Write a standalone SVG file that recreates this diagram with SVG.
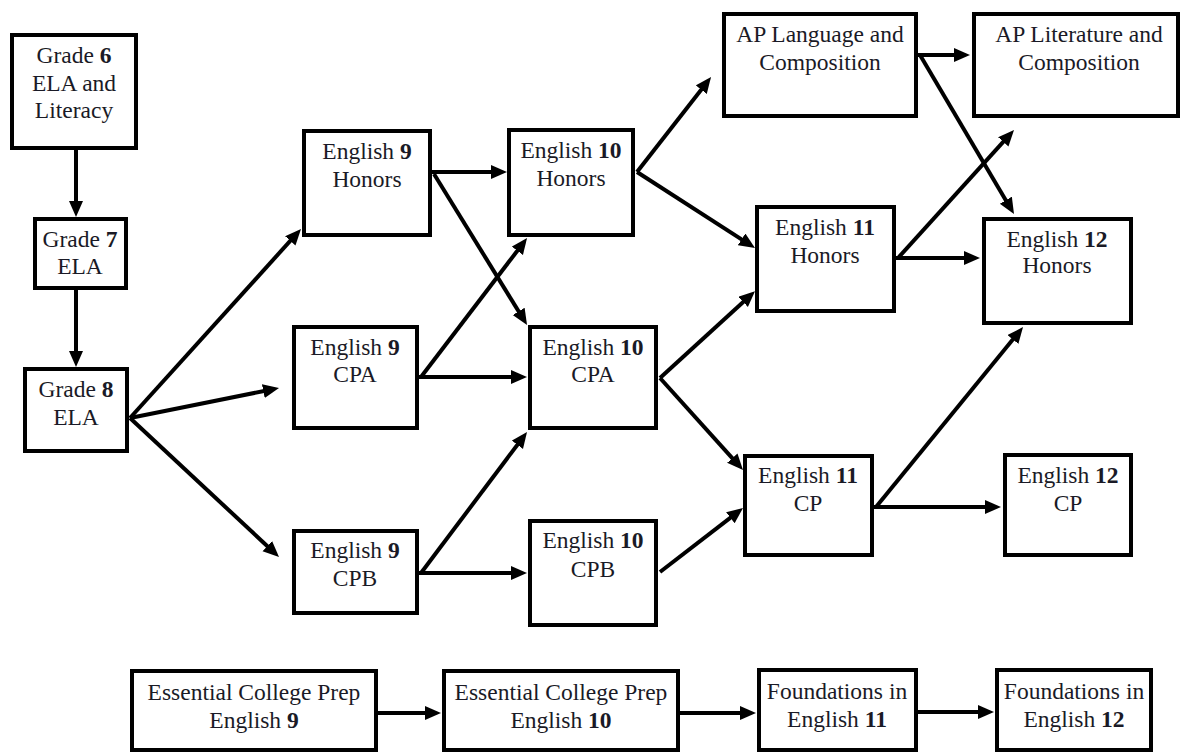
<svg xmlns="http://www.w3.org/2000/svg" width="1183" height="754" viewBox="0 0 1183 754" font-family="Liberation Serif, Tinos, Times New Roman, DejaVu Serif, serif">
<defs>
<style>
.box{fill:#fff;stroke:#000;stroke-width:4}
.t{font-family:'Liberation Serif','Tinos','Times New Roman','DejaVu Serif',serif;font-size:23.5px;fill:#1a1a26;text-anchor:middle}
.b{font-weight:bold}
.c{stroke:#000;stroke-width:4;fill:none;marker-end:url(#ah)}
</style>
<marker id="ah" markerUnits="userSpaceOnUse" markerWidth="18" markerHeight="15" refX="6" refY="7" orient="auto">
<path d="M0,0 L16,7 L0,14 z" fill="#000"/>
</marker>
</defs>
<rect width="1183" height="754" fill="#fff"/>
<g id="connectors">
<path class="c" d="M76,150 L76,207"/>
<path class="c" d="M76,290 L76,357"/>
<path class="c" d="M130,418 L294.3,236.4"/>
<path class="c" d="M130,418 L269.2,390"/>
<path class="c" d="M130,418 L271.7,550.2"/>
<path class="c" d="M432,172 L497,172"/>
<path class="c" d="M434,174 L521.8,316.5"/>
<path class="c" d="M421,377 L521,246"/>
<path class="c" d="M419,377 L517,377"/>
<path class="c" d="M421,573 L521,440"/>
<path class="c" d="M419,573 L517,573"/>
<path class="c" d="M637,172 L704.9,84.9"/>
<path class="c" d="M637,172 L746.6,242.6"/>
<path class="c" d="M660,378 L747.6,297.9"/>
<path class="c" d="M660,378 L736.3,462.6"/>
<path class="c" d="M660,572 L735.1,514.1"/>
<path class="c" d="M918,55 L960,55"/>
<path class="c" d="M920,55 L1008.9,205.4"/>
<path class="c" d="M898,258 L1007.3,137.4"/>
<path class="c" d="M896,258 L970,258"/>
<path class="c" d="M874,507 L991,507"/>
<path class="c" d="M876,507 L1016.7,334.8"/>
<path class="c" d="M378,713 L431,713"/>
<path class="c" d="M680,713 L746,713"/>
<path class="c" d="M918,712 L984,712"/>
</g>
<g id="grade6"><rect class="box" x="12" y="35" width="124" height="113"/>
<text class="t" x="74" y="63">Grade <tspan class="b">6</tspan></text>
<text class="t" x="74" y="91">ELA and</text>
<text class="t" x="74" y="118">Literacy</text></g>
<g id="grade7"><rect class="box" x="35" y="219" width="91" height="69"/>
<text class="t" x="80" y="247">Grade <tspan class="b">7</tspan></text>
<text class="t" x="80" y="274">ELA</text></g>
<g id="grade8"><rect class="box" x="25" y="369" width="102" height="82"/>
<text class="t" x="76" y="397">Grade <tspan class="b">8</tspan></text>
<text class="t" x="76" y="425">ELA</text></g>
<g id="e9h"><rect class="box" x="304" y="131" width="126" height="104"/>
<text class="t" x="367" y="159">English <tspan class="b">9</tspan></text>
<text class="t" x="367" y="187">Honors</text></g>
<g id="e10h"><rect class="box" x="509" y="130" width="124" height="105"/>
<text class="t" x="571" y="158">English <tspan class="b">10</tspan></text>
<text class="t" x="571" y="186">Honors</text></g>
<g id="e9cpa"><rect class="box" x="294" y="327" width="123" height="101"/>
<text class="t" x="355" y="355">English <tspan class="b">9</tspan></text>
<text class="t" x="355" y="382">CPA</text></g>
<g id="e10cpa"><rect class="box" x="530" y="327" width="126" height="101"/>
<text class="t" x="593" y="355">English <tspan class="b">10</tspan></text>
<text class="t" x="593" y="382">CPA</text></g>
<g id="e9cpb"><rect class="box" x="294" y="531" width="123" height="82"/>
<text class="t" x="355" y="558">English <tspan class="b">9</tspan></text>
<text class="t" x="355" y="586">CPB</text></g>
<g id="e10cpb"><rect class="box" x="530" y="521" width="126" height="104"/>
<text class="t" x="593" y="548">English <tspan class="b">10</tspan></text>
<text class="t" x="593" y="577">CPB</text></g>
<g id="aplang"><rect class="box" x="724" y="14" width="192" height="102"/>
<text class="t" x="820" y="42">AP Language and</text>
<text class="t" x="820" y="70">Composition</text></g>
<g id="aplit"><rect class="box" x="974" y="14" width="204" height="102"/>
<text class="t" x="1079" y="42">AP Literature and</text>
<text class="t" x="1079" y="70">Composition</text></g>
<g id="e11h"><rect class="box" x="757" y="207" width="137" height="104"/>
<text class="t" x="825" y="235">English <tspan class="b">11</tspan></text>
<text class="t" x="825" y="263">Honors</text></g>
<g id="e12h"><rect class="box" x="984" y="219" width="147" height="104"/>
<text class="t" x="1057" y="247">English <tspan class="b">12</tspan></text>
<text class="t" x="1057" y="273">Honors</text></g>
<g id="e11cp"><rect class="box" x="745" y="456" width="127" height="99"/>
<text class="t" x="808" y="483">English <tspan class="b">11</tspan></text>
<text class="t" x="808" y="511">CP</text></g>
<g id="e12cp"><rect class="box" x="1005" y="455" width="126" height="100"/>
<text class="t" x="1068" y="483">English <tspan class="b">12</tspan></text>
<text class="t" x="1068" y="511">CP</text></g>
<g id="ecp9"><rect class="box" x="132" y="671" width="244" height="79"/>
<text class="t" x="254" y="700">Essential College Prep</text>
<text class="t" x="254" y="728">English <tspan class="b">9</tspan></text></g>
<g id="ecp10"><rect class="box" x="444" y="671" width="234" height="79"/>
<text class="t" x="561" y="700">Essential College Prep</text>
<text class="t" x="561" y="728">English <tspan class="b">10</tspan></text></g>
<g id="f11"><rect class="box" x="759" y="670" width="157" height="80"/>
<text class="t" x="837" y="699">Foundations in</text>
<text class="t" x="837" y="727">English <tspan class="b">11</tspan></text></g>
<g id="f12"><rect class="box" x="997" y="670" width="154" height="80"/>
<text class="t" x="1074" y="699">Foundations in</text>
<text class="t" x="1074" y="727">English <tspan class="b">12</tspan></text></g>
</svg>
